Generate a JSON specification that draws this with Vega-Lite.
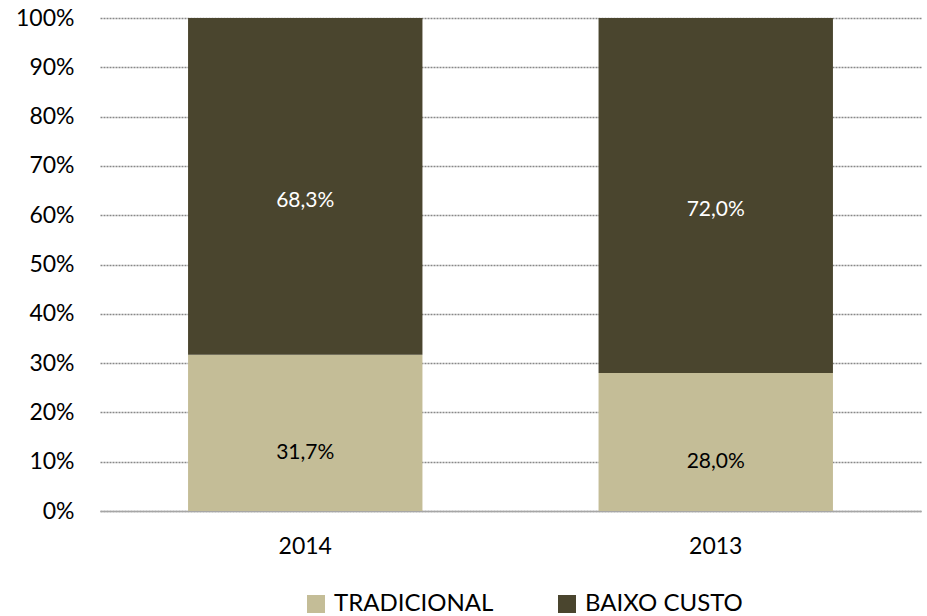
{
  "$schema": "https://vega.github.io/schema/vega-lite/v6.json",
  "width": 821,
  "height": 493,
  "autosize": {"type": "none"},
  "padding": {"left": 100, "top": 18, "right": 6, "bottom": 105},
  "background": "white",
  "config": {
    "view": {"stroke": null},
    "font": "Lato",
    "axis": {"labelFont": "Lato", "labelColor": "#000000"},
    "legend": {"labelFont": "Lato"}
  },
  "data": {
    "values": [
      {"ano": "2014", "tipo": "TRADICIONAL", "valor": 0.317, "rotulo": "31,7%"},
      {"ano": "2014", "tipo": "BAIXO CUSTO", "valor": 0.683, "rotulo": "68,3%"},
      {"ano": "2013", "tipo": "TRADICIONAL", "valor": 0.28, "rotulo": "28,0%"},
      {"ano": "2013", "tipo": "BAIXO CUSTO", "valor": 0.72, "rotulo": "72,0%"}
    ]
  },
  "encoding": {
    "x": {
      "field": "ano",
      "type": "nominal",
      "sort": ["2014", "2013"],
      "scale": {"paddingInner": 0.429, "paddingOuter": 0.2145},
      "axis": {
        "title": null,
        "labelAngle": 0,
        "labelFontSize": 23,
        "labelPadding": 24,
        "ticks": false,
        "domainColor": "#a6a6a6",
        "domainWidth": 1.5,
        "grid": false
      }
    },
    "y": {
      "field": "valor",
      "type": "quantitative",
      "stack": "zero",
      "scale": {"domain": [0, 1], "nice": false},
      "axis": {
        "title": null,
        "values": [0, 0.1, 0.2, 0.3, 0.4, 0.5, 0.6, 0.7, 0.8, 0.9, 1],
        "format": ".0%",
        "labelFontSize": 23,
        "labelPadding": 26,
        "ticks": false,
        "domain": false,
        "grid": true,
        "gridColor": "#888888",
        "gridDash": [2, 1],
        "gridWidth": 1.3
      }
    },
    "order": {"field": "tipo", "sort": "descending"}
  },
  "layer": [
    {
      "mark": {"type": "bar"},
      "encoding": {
        "color": {
          "field": "tipo",
          "type": "nominal",
          "scale": {"domain": ["TRADICIONAL", "BAIXO CUSTO"], "range": ["#C4BD97", "#4A452E"]},
          "legend": {
            "title": null,
            "orient": "none",
            "direction": "horizontal",
            "legendX": 204,
            "legendY": 574,
            "symbolType": "square",
            "symbolSize": 324,
            "symbolStrokeWidth": 0,
            "labelFontSize": 24,
            "labelColor": "#000000",
            "labelOffset": 6,
            "columnPadding": 61
          }
        }
      }
    },
    {
      "mark": {"type": "text", "fontSize": 21, "color": "#000000", "dy": 20, "baseline": "middle"},
      "encoding": {
        "y": {"field": "valor", "type": "quantitative", "stack": "zero", "bandPosition": 0.5},
        "text": {"condition": {"test": "datum.tipo === 'TRADICIONAL'", "field": "rotulo"}, "value": ""}
      }
    },
    {
      "mark": {"type": "text", "fontSize": 21, "color": "#ffffff", "dy": 15, "baseline": "middle"},
      "encoding": {
        "y": {"field": "valor", "type": "quantitative", "stack": "zero", "bandPosition": 0.5},
        "text": {"condition": {"test": "datum.tipo === 'BAIXO CUSTO'", "field": "rotulo"}, "value": ""}
      }
    }
  ]
}
